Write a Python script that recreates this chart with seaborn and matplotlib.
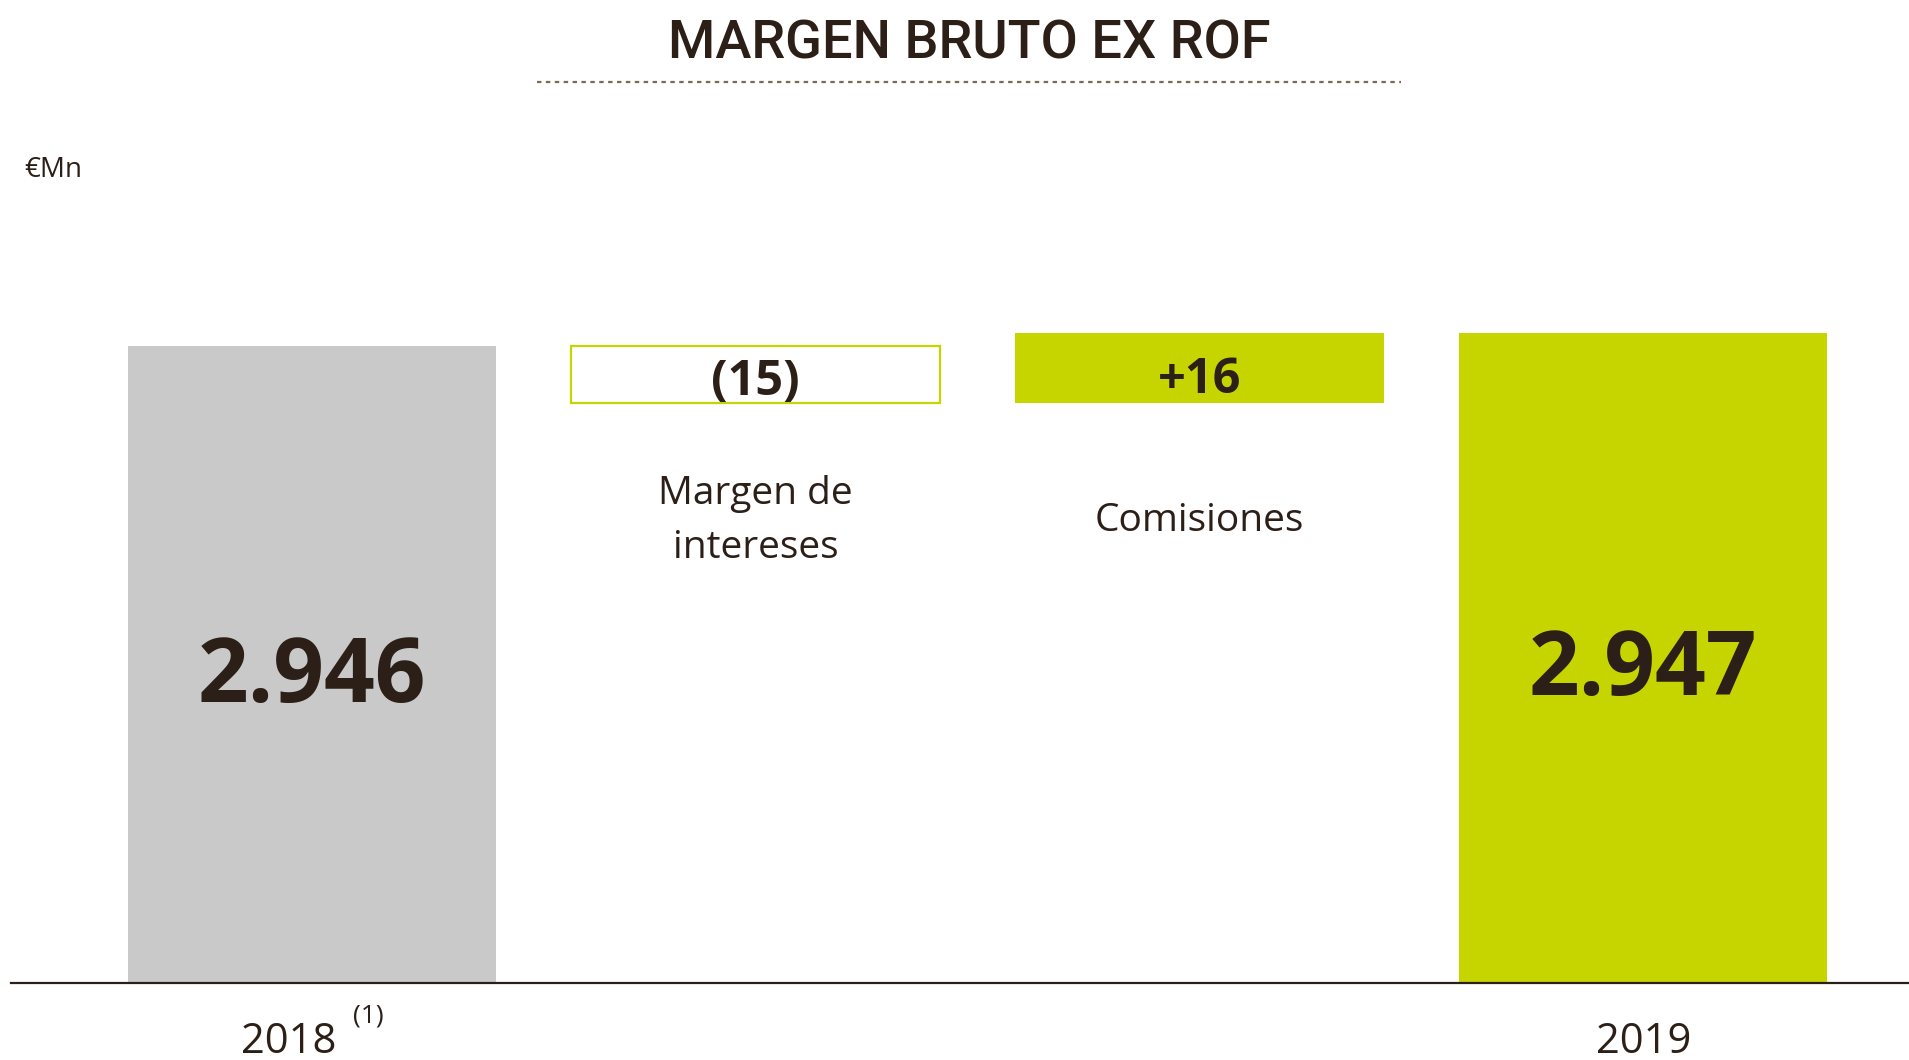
import numpy as np
import pandas as pd
import matplotlib
matplotlib.use("Agg")
import matplotlib.pyplot as plt
from matplotlib.lines import Line2D
import matplotlib.transforms as mtransforms
import seaborn as sns

# ---- data ----
categories = ["2018", "Margen de\nintereses", "Comisiones", "2019"]
start_total = 2946
deltas = [-15, 16]
end_total = 2947
total_labels = ["2.946", "2.947"]
delta_labels = ["(15)", "+16"]
title = "MARGEN BRUTO EX ROF"
unit = "€Mn"
footnote = "(1)"

# ---- styles ----
TXT = "#2b1f17"
LIME = "#c6d500"
GREY = "#c9c9c9"

sns.set_theme(style="white")
plt.rcParams["font.family"] = ["Open Sans", "DejaVu Sans"]

W, H = 1909, 1060
fig = plt.figure(figsize=(W / 100, H / 100), dpi=100)
base_px = 982.5
top_px = 100
ax = fig.add_axes([11 / W, (H - base_px) / H, 1 - 11 / W, (base_px - top_px) / H])

# totals via seaborn
totals_df = pd.DataFrame({"cat": [categories[0], categories[3]],
                          "value": [start_total, end_total]})
sns.barplot(data=totals_df, x="cat", y="value", order=categories, hue="cat",
            palette={categories[0]: GREY, categories[3]: LIME}, width=0.83,
            legend=False, ax=ax, saturation=1, linewidth=0)

# floating waterfall steps
running = start_total
bottoms, heights = [], []
for d in deltas:
    new = running + d
    bottoms.append(min(running, new))
    heights.append(abs(d))
    running = new
ax.bar([1], [heights[0]], bottom=[bottoms[0]], width=0.83, color="white",
       edgecolor=LIME, linewidth=1.6)
ax.bar([2], [heights[1]], bottom=[bottoms[1]], width=0.83, color=LIME,
       linewidth=0)

# non-linear (schematic) y scale, as in the source slide
lo = min(bottoms)
xp = np.array([-1e4, 0, lo, start_total, end_total, 1e4], dtype=float)
fp = np.array([-1e4 * 580 / lo, 0, 580, 637, 650, 650 + (1e4 - end_total) * 4.375])
fwd = lambda v: np.interp(v, xp, fp)
inv = lambda v: np.interp(v, fp, xp)
ax.set_yscale("function", functions=(fwd, inv))
ax.set_ylim(0, inv(base_px - top_px))
ax.set_xlim(-0.678, 3.599)

for s in ["top", "right", "left"]:
    ax.spines[s].set_visible(False)
ax.spines["bottom"].set_color(TXT)
ax.spines["bottom"].set_linewidth(1.6)
ax.set_xticks([])
ax.set_yticks([])
ax.set_xlabel("")
ax.set_ylabel("")

bt = mtransforms.blended_transform_factory(ax.transData, ax.transAxes)
def yfrac(ypx):
    return (base_px - ypx) / (base_px - top_px)

# total labels
ax.text(0, yfrac(679), total_labels[0], transform=bt, ha="center", va="center",
        fontsize=64, fontweight="bold", color=TXT)
ax.text(3, yfrac(672), total_labels[1], transform=bt, ha="center", va="center",
        fontsize=64, fontweight="bold", color=TXT)
# delta labels
down = mtransforms.ScaledTranslation(0, -6 / 72, fig.dpi_scale_trans)
for i, d in enumerate(deltas):
    ax.text(1 + i, bottoms[i] + heights[i] / 2, delta_labels[i], ha="center",
            va="center", fontsize=35, fontweight="bold", color=TXT,
            transform=ax.transData + down)
# category labels
for i in (1, 2):
    ax.text(i, yfrac(521), categories[i], transform=bt, ha="center", va="center",
            fontsize=28, color=TXT, linespacing=1.55)

# x labels (below axis)
fig.text(289 / W, 1 - 1042 / H, categories[0], ha="center", va="center",
         fontsize=30, color=TXT)
fig.text(368 / W, 1 - 1016 / H, footnote, ha="center", va="center",
         fontsize=19, color=TXT)
fig.text(1644 / W, 1 - 1042 / H, categories[3], ha="center", va="center",
         fontsize=30, color=TXT)

# title and dotted rule
fig.text(969 / W, 1 - 44 / H, title, ha="center", va="center", fontsize=39,
         color=TXT, family=["Roboto", "DejaVu Sans"], fontweight="medium")
fig.add_artist(Line2D([537 / W, 1401 / W], [1 - 82 / H, 1 - 82 / H],
                      transform=fig.transFigure, color="#7a6a55",
                      linewidth=1.6, linestyle=(0, (2, 2))))
fig.text(24 / W, 1 - 170 / H, unit, ha="left", va="center", fontsize=20,
         color=TXT)

fig.savefig("out.png", dpi=100, facecolor="white")
